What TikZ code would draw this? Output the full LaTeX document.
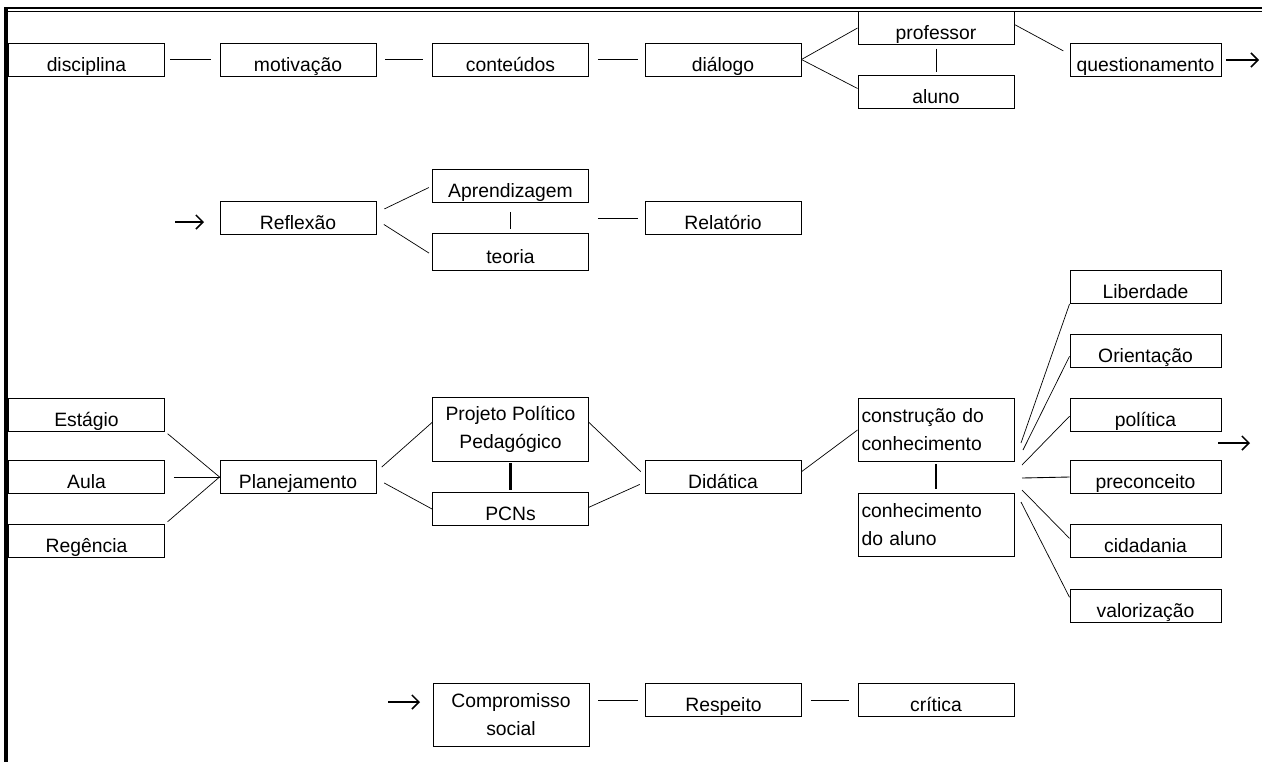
\documentclass[tikz,border=0pt]{standalone}
\usepackage{fontspec}
\setmainfont{Liberation Sans}
\usetikzlibrary{calc,arrows.meta}
\newcommand{\texto}{\fontsize{11}{16}\selectfont}

\tikzset{
  caixa/.style={draw, line width=0.55pt, minimum width=3.12cm, minimum height=0.66cm, inner sep=1pt,
    text height=15pt, text depth=1.6pt, font=\texto},
  estreita/.style={minimum width=3.02cm},
  alta/.style={minimum height=1.27cm, text height=, text depth=, align=center},
  esquerda/.style={minimum height=1.27cm, text height=, text depth=, text width=2.98cm, inner xsep=0.07cm, align=left},
  liga/.style={line width=0.5pt},
  fina/.style={line width=0.4pt},
  grossa/.style={line width=1.6pt},
  seta/.style={-{Straight Barb[length=4pt,width=8pt,line width=0.9pt]}, line width=0.8pt}
}

\begin{document}
\begin{tikzpicture}[x=0.02cm, y=-0.02cm]
\useasboundingbox (0,0) rectangle (1262,762);

% moldura
\draw[line width=1.5pt] (4,8) -- (1262,8);
\draw[line width=0.5pt] (8,11.2) -- (1262,11.2);
\draw[line width=2.3pt] (6,7) -- (6,762);

% linha 1
\node[caixa] (disc) at (86.5,59.5) {disciplina};
\node[caixa] (motiv) at (298,59.5) {motivação};
\node[caixa] (cont) at (510.5,59.5) {conteúdos};
\node[caixa] (dial) at (723,59.5) {diálogo};
\node[caixa] (prof) at (936,28) {professor};
\node[caixa] (aluno) at (936,92) {aluno};
\node[caixa, estreita] (quest) at (1145.5,59.5) {questionamento};
\coordinate (s1a) at (1226,60);
\coordinate (s1b) at (1259,60);

\draw[liga, shorten <=3pt, shorten >=5pt] (disc) -- (motiv);
\draw[liga, shorten <=5pt, shorten >=5pt] (motiv) -- (cont);
\draw[liga, shorten <=5pt, shorten >=4pt] (cont) -- (dial);
\draw[fina] (dial.east) -- (prof.west);
\draw[fina] (dial.east) -- ([yshift=2pt]aluno.west);
\draw[liga, shorten <=2pt, shorten >=2pt] (prof) -- (aluno);
\draw[fina, shorten >=4pt] ([yshift=2pt]prof.east) -- ([yshift=3pt]quest.west);
\draw[seta] (s1a) -- (s1b);

% linha 2
\node[caixa] (refl) at (298,218) {Reflexão};
\node[caixa] (aprend) at (510.5,186) {Aprendizagem};
\node[caixa, minimum height=0.74cm] (teoria) at (510.5,251.5) {teoria};
\node[caixa] (relat) at (723,218) {Relatório};
\coordinate (s2a) at (175,222);
\coordinate (s2b) at (204,222);

\draw[seta] (s2a) -- (s2b);
\draw[fina, shorten <=5pt, shorten >=2pt] ([yshift=3pt]refl.east) -- (aprend.west);
\draw[fina, shorten <=5pt, shorten >=2pt] ([yshift=-1pt]refl.east) -- ([yshift=-2pt]teoria.west);
\draw[liga, shorten <=5pt, shorten >=2pt] (aprend) -- (teoria);
\draw[liga, shorten <=5pt, shorten >=4pt] (relat.west -| teoria.east) -- (relat.west);

% linha 3
\node[caixa] (est) at (86.5,414.5) {Estágio};
\node[caixa] (aula) at (86.5,477) {Aula};
\node[caixa] (reg) at (86.5,541) {Regência};
\node[caixa] (plan) at (298,477) {Planejamento};
\node[caixa, alta] (ppp) at (510.5,429.5) {Projeto Político\\Pedagógico};
\node[caixa] (pcn) at (510.5,509) {PCNs};
\node[caixa] (did) at (723,477) {Didática};
\node[caixa, esquerda] (constr) at (936,430) {construção do\\conhecimento};
\node[caixa, esquerda] (conhal) at (936,525) {conhecimento\\do aluno};

\draw[fina, shorten <=2pt] (est.south east) -- (plan.west);
\draw[liga, shorten <=5pt] (aula) -- (plan);
\draw[fina, shorten <=2pt] (reg.north east) -- (plan.west);
\draw[fina, shorten <=4pt] ([yshift=3pt]plan.east) -- ([yshift=4pt]ppp.west);
\draw[fina, shorten <=5pt] ([yshift=-1pt]plan.east) -- (pcn.west);
\draw[grossa, shorten <=1pt, shorten >=1pt] (ppp) -- (pcn);
\draw[fina, shorten >=3pt] ([yshift=4pt]ppp.east) -- ([yshift=1pt]did.west);
\draw[fina, shorten >=3pt] ([yshift=1pt]pcn.east) -- ([yshift=-3pt]did.west);
\draw[fina] ([yshift=3pt]did.east) -- (constr.west);
\draw[grossa, shorten <=1pt, shorten >=2pt] (constr) -- (conhal);

% leque
\node[caixa, estreita] (lib) at (1145.5,287) {Liberdade};
\node[caixa, estreita] (ori) at (1145.5,351) {Orientação};
\node[caixa, estreita] (pol) at (1145.5,414.5) {política};
\node[caixa, estreita] (prec) at (1145.5,477) {preconceito};
\node[caixa, estreita] (cid) at (1145.5,541) {cidadania};
\node[caixa, estreita] (valor) at (1145.5,605.5) {valorização};
\coordinate (f1) at (1021,443);
\coordinate (f2) at (1023,450);
\coordinate (f3) at (1022,465);
\coordinate (f4) at (1022,478);
\coordinate (f5) at (1022,490);
\coordinate (f6) at (1021,502);
\coordinate (s3a) at (1218,443);
\coordinate (s3b) at (1250,443);

\draw[fina] (f1) -- (lib.south west);
\draw[fina] (f2) -- ([yshift=-3pt]ori.west);
\draw[fina] (f3) -- ([yshift=-1pt]pol.west);
\draw[liga] (f4) -- (prec.west);
\draw[fina] (f5) -- ([yshift=1.5pt]cid.west);
\draw[fina] (f6) -- ([yshift=-5pt]valor.north west);
\draw[seta] (s3a) -- (s3b);

% linha 4
\node[caixa, alta] (comp) at (511,715) {Compromisso\\social};
\node[caixa] (resp) at (723.5,700) {Respeito};
\node[caixa] (crit) at (936,700) {crítica};
\coordinate (s4a) at (388,702);
\coordinate (s4b) at (420,702);

\draw[seta] (s4a) -- (s4b);
\draw[liga, shorten <=5pt, shorten >=4pt] (resp.west -| comp.east) -- (resp.west);
\draw[liga, shorten <=5pt, shorten >=5pt] (resp) -- (crit);
\end{tikzpicture}
\end{document}
